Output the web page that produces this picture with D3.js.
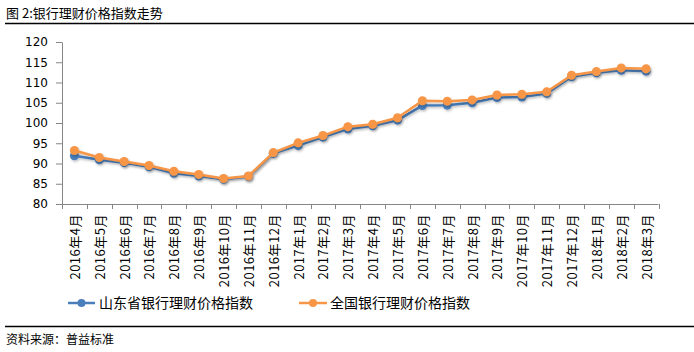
<!DOCTYPE html>
<html><head><meta charset="utf-8">
<script src="https://cdn.jsdelivr.net/npm/d3@7/dist/d3.min.js"></script>
<style>
body{margin:0;background:#fff;}
svg{display:block;}
</style></head>
<body>
<svg id="c" width="694" height="352"></svg>
<script>
const months = ["2016年4月","2016年5月","2016年6月","2016年7月","2016年8月","2016年9月","2016年10月","2016年11月","2016年12月","2017年1月","2017年2月","2017年3月","2017年4月","2017年5月","2017年6月","2017年7月","2017年8月","2017年9月","2017年10月","2017年11月","2017年12月","2018年1月","2018年2月","2018年3月"];
const shandong = [91.9,90.9,90.2,89.2,87.6,86.9,86.1,86.8,92.5,94.4,96.5,98.5,99.3,100.7,104.3,104.4,105.0,106.3,106.4,107.3,111.4,112.4,113.0,112.8];
const national = [93.2,91.5,90.5,89.5,88.1,87.3,86.3,86.9,92.7,95.1,96.9,99.1,99.7,101.3,105.5,105.4,105.7,106.9,107.1,107.7,111.8,112.7,113.6,113.4];
const yTicks = [80,85,90,95,100,105,110,115,120];
const seriesNames = ["山东省银行理财价格指数","全国银行理财价格指数"];
const title = "图 2:银行理财价格指数走势";
const source = "资料来源：普益标准";

const svg = d3.select("#c");
const font = "'Noto Sans CJK SC','Liberation Sans',sans-serif";
const axisColor = "#868686";
const colors = ["#4A7EBB","#F79646"];

const defs = svg.append("defs");
const f = defs.append("filter").attr("id","sh").attr("x","-50%").attr("y","-50%").attr("width","200%").attr("height","200%");
f.append("feDropShadow").attr("dx",1).attr("dy",1.5).attr("stdDeviation",1).attr("flood-color","#000").attr("flood-opacity",0.25);

// title
svg.append("text").attr("x",6).attr("y",18).attr("font-family",font).attr("font-size",13).attr("fill","#000").text(title);
svg.append("line").attr("x1",5).attr("x2",694).attr("y1",23.5).attr("y2",23.5).attr("stroke","#000").attr("stroke-width",1.5);

// source
svg.append("line").attr("x1",5).attr("x2",694).attr("y1",326.5).attr("y2",326.5).attr("stroke","#000").attr("stroke-width",1.5);
svg.append("text").attr("x",6).attr("y",344).attr("font-family",font).attr("font-size",12).attr("fill","#000").text(source);

const x = d3.scaleBand().domain(months).range([62,658.5]).padding(0);
const y = d3.scaleLinear().domain([80,120]).range([204,42]);

// y axis
const ya = svg.append("g").attr("transform","translate(62,0)")
  .call(d3.axisLeft(y).tickValues(yTicks).tickSize(6).tickSizeOuter(0).tickPadding(8));
ya.select(".domain").attr("stroke",axisColor);
ya.selectAll(".tick line").attr("stroke",axisColor);
ya.selectAll(".tick text").attr("font-family","'DejaVu Sans','Liberation Sans',sans-serif").attr("font-size",12).attr("fill","#000");

// x axis
const xa = svg.append("g");
xa.append("line").attr("x1",x.range()[0]).attr("x2",x.range()[1]).attr("y1",204.5).attr("y2",204.5).attr("stroke",axisColor);
const bounds = months.map(m=>x(m)).concat([x(months[months.length-1])+x.bandwidth()]);
xa.selectAll("line.t").data(bounds).enter().append("line")
  .attr("x1",d=>Math.round(d)+0.5).attr("x2",d=>Math.round(d)+0.5).attr("y1",204).attr("y2",209).attr("stroke",axisColor);
xa.selectAll("text").data(months).enter().append("text")
  .attr("transform",d=>`translate(${x(d)+x.bandwidth()/2+5.5},214) rotate(-90)`)
  .attr("text-anchor","end").attr("font-family",font).attr("font-size",13).attr("letter-spacing",0.5).attr("fill","#000").text(d=>d);

const cx = d=>x(d)+x.bandwidth()/2;
const line = d3.line().x((d,i)=>cx(months[i])).y(d=>y(d));
[shandong,national].forEach((s,k)=>{
  const g = svg.append("g").attr("filter","url(#sh)");
  g.append("path").datum(s).attr("d",line).attr("fill","none").attr("stroke",colors[k]).attr("stroke-width",2.5).attr("stroke-linejoin","round");
  g.selectAll("circle").data(s).enter().append("circle")
    .attr("cx",(d,i)=>cx(months[i])).attr("cy",d=>y(d)).attr("r",4.5).attr("fill",colors[k]);
});

// legend
const lg = [{x1:68,x2:95,tx:99},{x1:299,x2:327,tx:330}];
seriesNames.forEach((n,k)=>{
  const g = svg.append("g");
  g.append("line").attr("x1",lg[k].x1).attr("x2",lg[k].x2).attr("y1",303).attr("y2",303).attr("stroke",colors[k]).attr("stroke-width",2.5);
  g.append("circle").attr("cx",(lg[k].x1+lg[k].x2)/2).attr("cy",303).attr("r",4).attr("fill",colors[k]);
  g.append("text").attr("x",lg[k].tx).attr("y",308).attr("font-family",font).attr("font-size",14).attr("fill","#000").text(n);
});
</script>
</body></html>
